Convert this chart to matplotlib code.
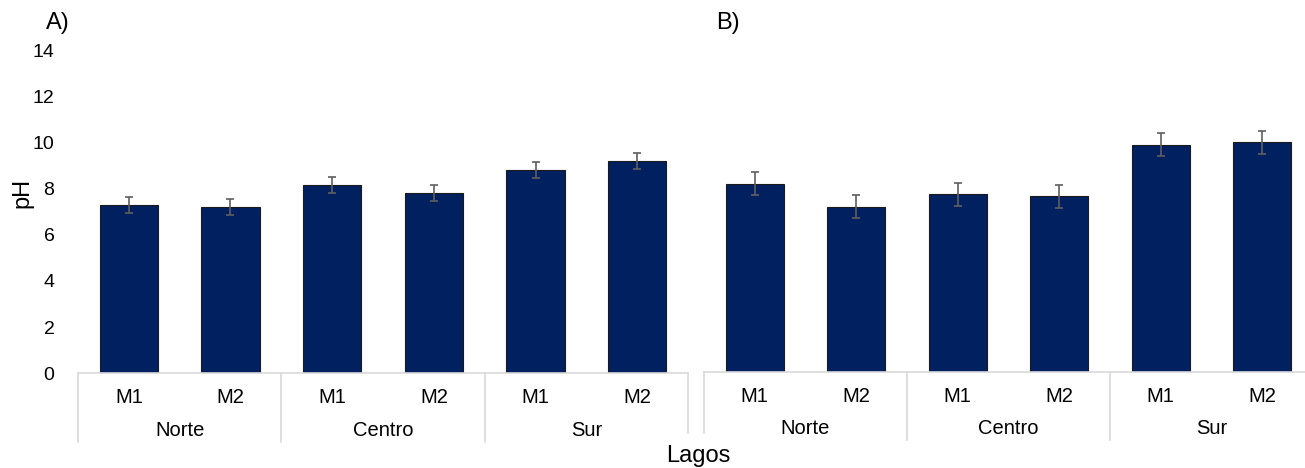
import matplotlib
matplotlib.use("Agg")
import matplotlib.pyplot as plt
import numpy as np

plt.rcParams['font.family'] = ['Liberation Sans', 'DejaVu Sans']

# Data
samples = ["M1", "M2", "M1", "M2", "M1", "M2"]
lakes = ["Norte", "Centro", "Sur"]
ph_a = [7.3, 7.2, 8.15, 7.8, 8.8, 9.2]
err_a = [0.35, 0.35, 0.35, 0.35, 0.33, 0.35]
ph_b = [8.15, 7.15, 7.7, 7.6, 9.85, 9.95]
err_b = [0.5, 0.5, 0.5, 0.5, 0.5, 0.5]
y_ticks = [0, 2, 4, 6, 8, 10, 12, 14]

W, H = 1305, 468
fig = plt.figure(figsize=(W / 100, H / 100), dpi=100)

BAR = "#002060"
GRID = "#d9d9d9"


def px_axes(left, right, top, bottom):
    return fig.add_axes([left / W, 1 - bottom / H, (right - left) / W, (bottom - top) / H])


def draw_panel(ax, vals, errs, show_y, box_depth):
    x = np.arange(len(vals))
    ax.bar(x, vals, width=0.575, color=BAR, edgecolor="#1a1a1a", linewidth=0.8, zorder=2)
    ax.errorbar(x, vals, yerr=errs, fmt="none", ecolor="#5f5f5f", elinewidth=1.2,
                capsize=3.2, capthick=1.2, zorder=3)
    ax.set_xlim(-0.5, len(vals) - 0.5)
    ax.set_ylim(0, 14)
    for s in ["top", "right", "left"]:
        ax.spines[s].set_visible(False)
    ax.spines["bottom"].set_color(GRID)
    ax.spines["bottom"].set_linewidth(1.2)
    ax.set_xticks([])
    ax.tick_params(axis="y", length=0, pad=17, labelsize=14)
    if show_y:
        ax.set_yticks(y_ticks)
    else:
        ax.set_yticks([])
    trans = ax.get_xaxis_transform()
    # convert pixel offsets below the axis into axes-fraction units
    ax_h = ax.get_position().height * H
    f = lambda px: -px / ax_h
    for i, s in enumerate(samples):
        ax.text(i, f(24), s, transform=trans, ha="center", va="center", fontsize=14.5)
    for g, name in enumerate(lakes):
        ax.text(2 * g + 0.5, f(57), name, transform=trans, ha="center", va="center",
                fontsize=14.5)
    for b in [-0.5, 1.5, 3.5, 5.5]:
        ax.plot([b, b], [0, f(box_depth)], transform=trans, color=GRID, lw=1.2,
                clip_on=False, zorder=1)


ax_a = px_axes(78, 688, 50, 373.3)
draw_panel(ax_a, ph_a, err_a, True, 69)
ax_b = px_axes(704, 1313, 48.7, 372)
draw_panel(ax_b, ph_b, err_b, False, 68)

fig.text(58 / W, 1 - 23 / H, "A)", ha="center", va="center", fontsize=17)
fig.text(728 / W, 1 - 23 / H, "B)", ha="center", va="center", fontsize=17)
fig.text(22 / W, 1 - 193 / H, "pH", ha="center", va="center", rotation=90, fontsize=17)
fig.text(698 / W, 1 - 456 / H, "Lagos", ha="center", va="center", fontsize=17,
         bbox=dict(facecolor="white", edgecolor="none", pad=8))

fig.savefig("out.png", dpi=100)
